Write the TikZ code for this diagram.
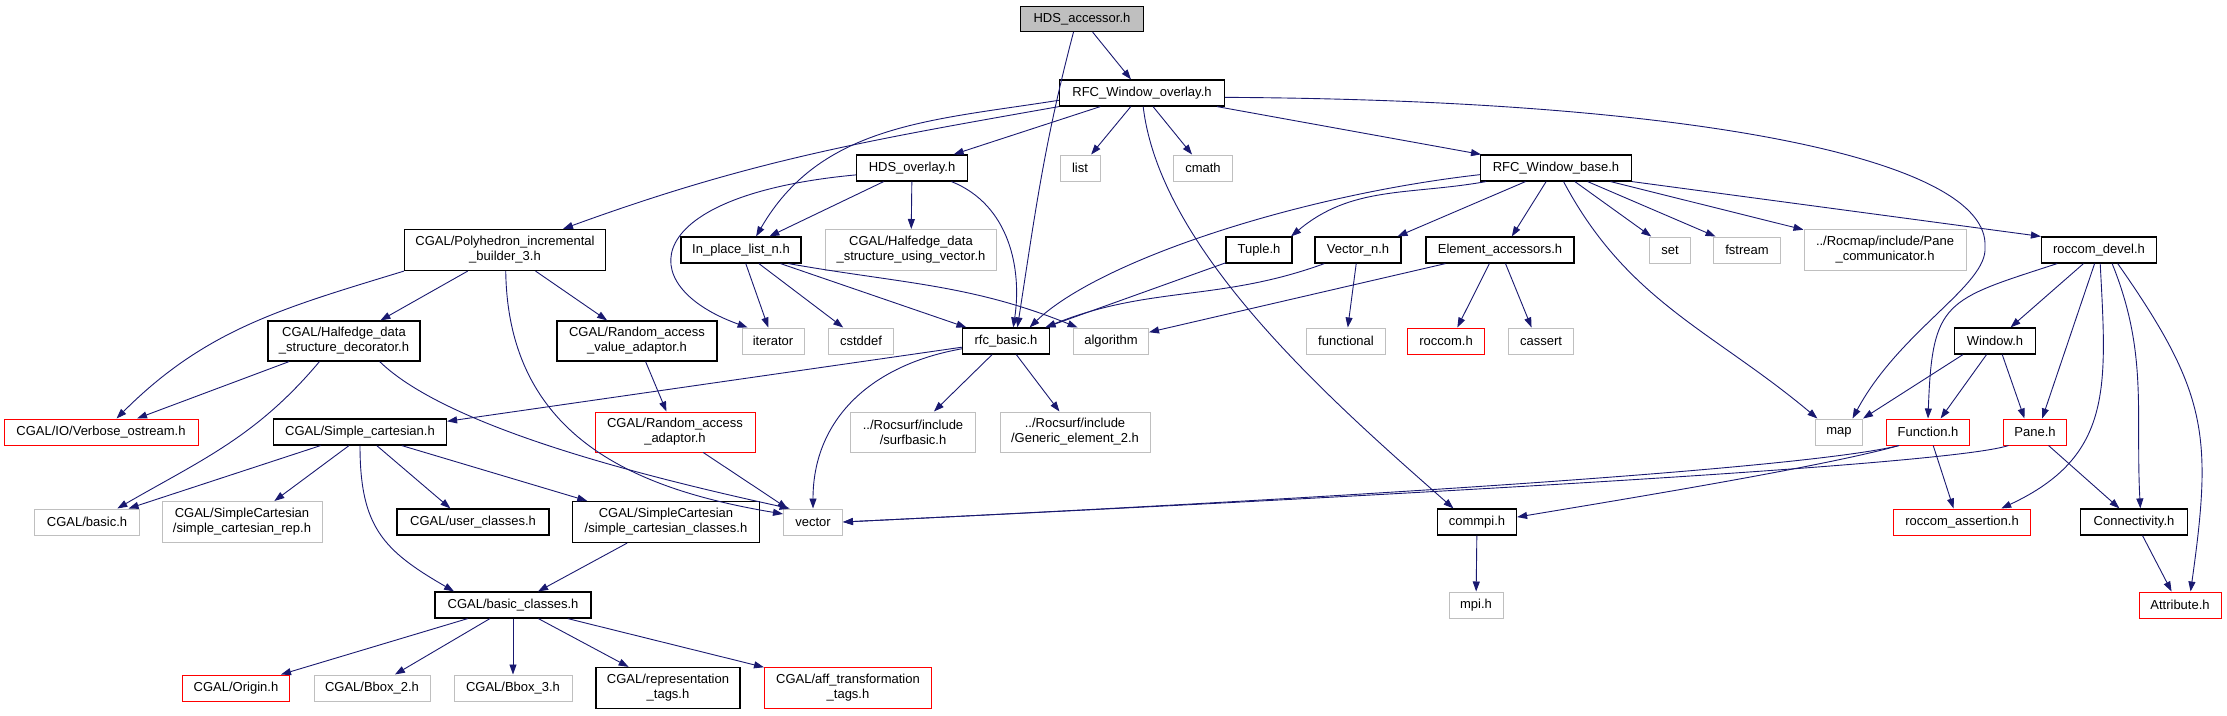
\documentclass[tikz,border=0pt]{standalone}
\usepackage{fontspec}
\setmainfont{Liberation Sans}
\usetikzlibrary{arrows.meta}
\definecolor{edgeblue}{RGB}{25,25,112}
\definecolor{extgray}{RGB}{191,191,191}

\begin{document}
\begin{tikzpicture}[x=1pt,y=1pt,
		file/.style={draw=black, line width=1.2pt, inner sep=0pt, minimum height=26,
			align=center, font=\fontsize{13}{15}\selectfont},
		ext/.style={file, draw=extgray, line width=1pt},
		trunc/.style={file, draw=red, line width=1pt},
		two/.style={minimum height=41},
		dep/.style={draw=edgeblue, line width=0.9pt, -{Triangle[length=10pt,width=7pt]}}]
		\useasboundingbox (0,0) rectangle (2227,-715);

		% Wurzel und erste Ebene
		\node[file, fill=extgray, minimum width=123, minimum height=25] (acc) at (1082,-19) {HDS\_accessor.h};
		\node[file, minimum width=165] (ovl) at (1142,-93) {RFC\_Window\_overlay.h};

		\node[file, minimum width=111] (hov) at (912,-168) {HDS\_overlay.h};
		\node[ext, minimum width=40] (lst) at (1080,-168) {list};
		\node[ext, minimum width=59] (cmath) at (1203,-168) {cmath};
		\node[file, minimum width=151] (wbase) at (1556,-168) {RFC\_Window\_base.h};

		\node[file, two, minimum width=201] (pib) at (505,-250) {CGAL/Polyhedron\_incremental\\\_builder\_3.h};
		\node[file, minimum width=120] (ipl) at (741,-250) {In\_place\_list\_n.h};
		\node[ext, two, minimum width=171] (hdsv) at (911,-250) {CGAL/Halfedge\_data\\\_structure\_using\_vector.h};
		\node[file, minimum width=66] (tup) at (1259,-250) {Tuple.h};
		\node[file, minimum width=86] (vecn) at (1358,-250) {Vector\_n.h};
		\node[file, minimum width=148] (elac) at (1500,-250) {Element\_accessors.h};
		\node[ext, minimum width=41] (stdset) at (1670,-250) {set};
		\node[ext, minimum width=67] (fst) at (1747,-250) {fstream};
		\node[ext, two, minimum width=162] (pcom) at (1885,-250) {../Rocmap/include/Pane\\\_communicator.h};
		\node[file, minimum width=115] (rdev) at (2099,-250) {roccom\_devel.h};

		\node[file, two, minimum width=152, minimum height=40] (hdsd) at (344,-341) {CGAL/Halfedge\_data\\\_structure\_decorator.h};
		\node[file, two, minimum width=160, minimum height=40] (rava) at (637,-341) {CGAL/Random\_access\\\_value\_adaptor.h};
		\node[ext, minimum width=62] (iter) at (773,-341) {iterator};
		\node[ext, minimum width=65] (cstd) at (861,-341) {cstddef};
		\node[file, minimum width=87] (rfc) at (1006,-341) {rfc\_basic.h};
		\node[ext, minimum width=75] (algo) at (1111,-341) {algorithm};
		\node[ext, minimum width=79] (func) at (1346,-341) {functional};
		\node[trunc, minimum width=77] (rcm) at (1446,-341) {roccom.h};
		\node[ext, minimum width=65] (cass) at (1541,-341) {cassert};
		\node[file, minimum width=81] (win) at (1995,-341) {Window.h};

		\node[trunc, minimum width=194] (vost) at (101,-432) {CGAL/IO/Verbose\_ostream.h};
		\node[file, minimum width=173] (scart) at (360,-432) {CGAL/Simple\_cartesian.h};
		\node[trunc, two, minimum width=160, minimum height=40] (raa) at (675,-432) {CGAL/Random\_access\\\_adaptor.h};
		\node[ext, two, minimum width=125, minimum height=40] (surf) at (913,-432) {../Rocsurf/include\\/surfbasic.h};
		\node[ext, two, minimum width=150, minimum height=40] (gen) at (1075,-432) {../Rocsurf/include\\/Generic\_element\_2.h};
		\node[ext, minimum width=47] (map) at (1839,-432) {map};
		\node[trunc, minimum width=83] (fun) at (1928,-432) {Function.h};
		\node[trunc, minimum width=63] (pane) at (2035,-432) {Pane.h};

		\node[ext, minimum width=105] (cbas) at (87,-522) {CGAL/basic.h};
		\node[ext, two, minimum width=160] (screp) at (242,-522) {CGAL/SimpleCartesian\\/simple\_cartesian\_rep.h};
		\node[file, minimum width=152] (ucls) at (473,-522) {CGAL/user\_classes.h};
		\node[file, two, minimum width=187] (sccl) at (666,-522) {CGAL/SimpleCartesian\\/simple\_cartesian\_classes.h};
		\node[ext, minimum width=59] (vec) at (813,-522) {vector};
		\node[file, minimum width=79] (cmp) at (1477,-522) {commpi.h};
		\node[trunc, minimum width=137] (rass) at (1962,-522) {roccom\_assertion.h};
		\node[file, minimum width=107] (conn) at (2134,-522) {Connectivity.h};

		\node[file, minimum width=156] (bcls) at (513,-605) {CGAL/basic\_classes.h};
		\node[ext, minimum width=54] (mpi) at (1476,-605) {mpi.h};
		\node[trunc, minimum width=82] (attr) at (2180,-605) {Attribute.h};

		\node[trunc, minimum width=107] (orig) at (236,-688) {CGAL/Origin.h};
		\node[ext, minimum width=116] (bb2) at (372,-688) {CGAL/Bbox\_2.h};
		\node[ext, minimum width=118] (bb3) at (513,-688) {CGAL/Bbox\_3.h};
		\node[file, two, minimum width=144] (rtag) at (668,-688) {CGAL/representation\\\_tags.h};
		\node[trunc, two, minimum width=167] (aff) at (848,-688) {CGAL/aff\_transformation\\\_tags.h};

		% Abhaengigkeiten von HDS_accessor.h und RFC_Window_overlay.h
		\draw[dep] (acc) -- (ovl);
		\draw[dep] (acc.-123) .. controls (1044,-144) and (1035,-214) .. (rfc.50);
		\draw[dep] (ovl.south west) to[out=190,in=20] (pib.20);
		\draw[dep] (ovl.185) to[out=189,in=60] (ipl.42);
		\draw[dep] (ovl) -- (hov);
		\draw[dep] (ovl) -- (lst);
		\draw[dep] (ovl) -- (cmath);
		\draw[dep] (ovl) -- (wbase);
		\draw[dep] (ovl.-85) .. controls (1160,-250) and (1330,-400) .. (cmp.150);
		\draw[dep] (ovl.-3) .. controls (1700,-100) and (1990,-160) .. (1985,-247)
			.. controls (1988,-285) and (1900,-330) .. (map.45);

		% HDS_overlay.h und In_place_list_n.h
		\draw[dep] (hov) -- (ipl);
		\draw[dep] (hov.187) .. controls (640,-195) and (630,-285) .. (iter.152);
		\draw[dep] (hov) -- (hdsv);
		\draw[dep] (hov.-19) .. controls (1010,-205) and (1022,-270) .. (rfc.62);
		\draw[dep] (ipl) -- (iter);
		\draw[dep] (ipl) -- (cstd);
		\draw[dep] (ipl) -- (rfc);
		\draw[dep] (ipl.-16) to[out=-10,in=158] (algo.158);

		% RFC_Window_base.h
		\draw[dep] (wbase.185) .. controls (1300,-195) and (1100,-260) .. (rfc.30);
		\draw[dep] (wbase.-169) to[out=190,in=40] (tup.23);
		\draw[dep] (wbase.-156) -- (vecn.19);
		\draw[dep] (wbase.-126) -- (elac.49);
		\draw[dep] (wbase.-61) to[out=-62,in=140] (map.148);
		\draw[dep] (wbase) -- (stdset);
		\draw[dep] (wbase) -- (fst);
		\draw[dep] (wbase) -- (pcom);
		\draw[dep] (wbase.south east) -- (rdev.north west);
		\draw[dep] (tup.-159) -- (rfc.19);
		\draw[dep] (vecn.-158) to[out=200,in=22] (rfc.19);
		\draw[dep] (vecn) -- (func);
		\draw[dep] (elac.-166) -- (algo.13);
		\draw[dep] (elac.-128) -- (rcm.50);
		\draw[dep] (elac.-68) -- (cass.125);

		% CGAL-Zweig links
		\draw[dep] (pib.south west) to[out=197,in=45] (vost.41);
		\draw[dep] (pib) -- (hdsd);
		\draw[dep] (pib) -- (rava);
		\draw[dep] (pib.-88) .. controls (508,-440) and (640,-490) .. (vec.165);
		\draw[dep] (hdsd) -- (vost);
		\draw[dep] (hdsd.-140) to[out=-130,in=30] (cbas.24);
		\draw[dep] (hdsd.-30) .. controls (450,-430) and (660,-480) .. (vec.150);
		\draw[dep] (rava) -- (raa);
		\draw[dep] (raa.-36) -- (vec.152);

		% rfc_basic.h
		\draw[dep] (rfc.188) -- (scart.7);
		\draw[dep] (rfc.190) .. controls (870,-365) and (813,-420) .. (vec.north);
		\draw[dep] (rfc) -- (surf);
		\draw[dep] (rfc) -- (gen);

		% CGAL/Simple_cartesian.h und CGAL/basic_classes.h
		\draw[dep] (scart.-161) -- (cbas.18);
		\draw[dep] (scart.-129) -- (screp.33);
		\draw[dep] (scart.south) to[out=-90,in=150,looseness=1.2] (bcls.167);
		\draw[dep] (scart.-39) -- (ucls.149);
		\draw[dep] (scart.-18) -- (sccl.165);
		\draw[dep] (sccl) -- (bcls);
		\draw[dep] (bcls) -- (orig);
		\draw[dep] (bcls) -- (bb2);
		\draw[dep] (bcls) -- (bb3);
		\draw[dep] (bcls) -- (rtag);
		\draw[dep] (bcls) -- (aff);

		% roccom_devel.h und rechter Zweig
		\draw[dep] (rdev.-162) to[out=198,in=88,looseness=1.5] (fun.north);
		\draw[dep] (rdev) -- (win);
		\draw[dep] (rdev.-108) -- (pane.62);
		\draw[dep] (rdev.-85) to[out=-87,in=25,looseness=1.2] (rass.19);
		\draw[dep] (rdev.-46) to[out=-68,in=93] (conn.65);
		\draw[dep] (rdev.-36) to[out=-55,in=82,looseness=1.2] (attr.52);
		\draw[dep] (win.-157) -- (map.north east);
		\draw[dep] (win.-122) -- (fun.47);
		\draw[dep] (win.-62) -- (pane.128);
		\draw[dep] (fun.-155) .. controls (1800,-470) and (1300,-500) .. (vec.east);
		\draw[dep] (fun.-155) .. controls (1830,-465) and (1650,-495) .. (cmp.7);
		\draw[dep] (fun.-69) -- (rass.122);
		\draw[dep] (pane.-153) .. controls (1950,-465) and (1400,-495) .. (vec.east);
		\draw[dep] (pane.-45) -- (conn.137);
		\draw[dep] (conn.-58) -- (attr.122);
		\draw[dep] (cmp) -- (mpi);
	\end{tikzpicture}
\end{document}
